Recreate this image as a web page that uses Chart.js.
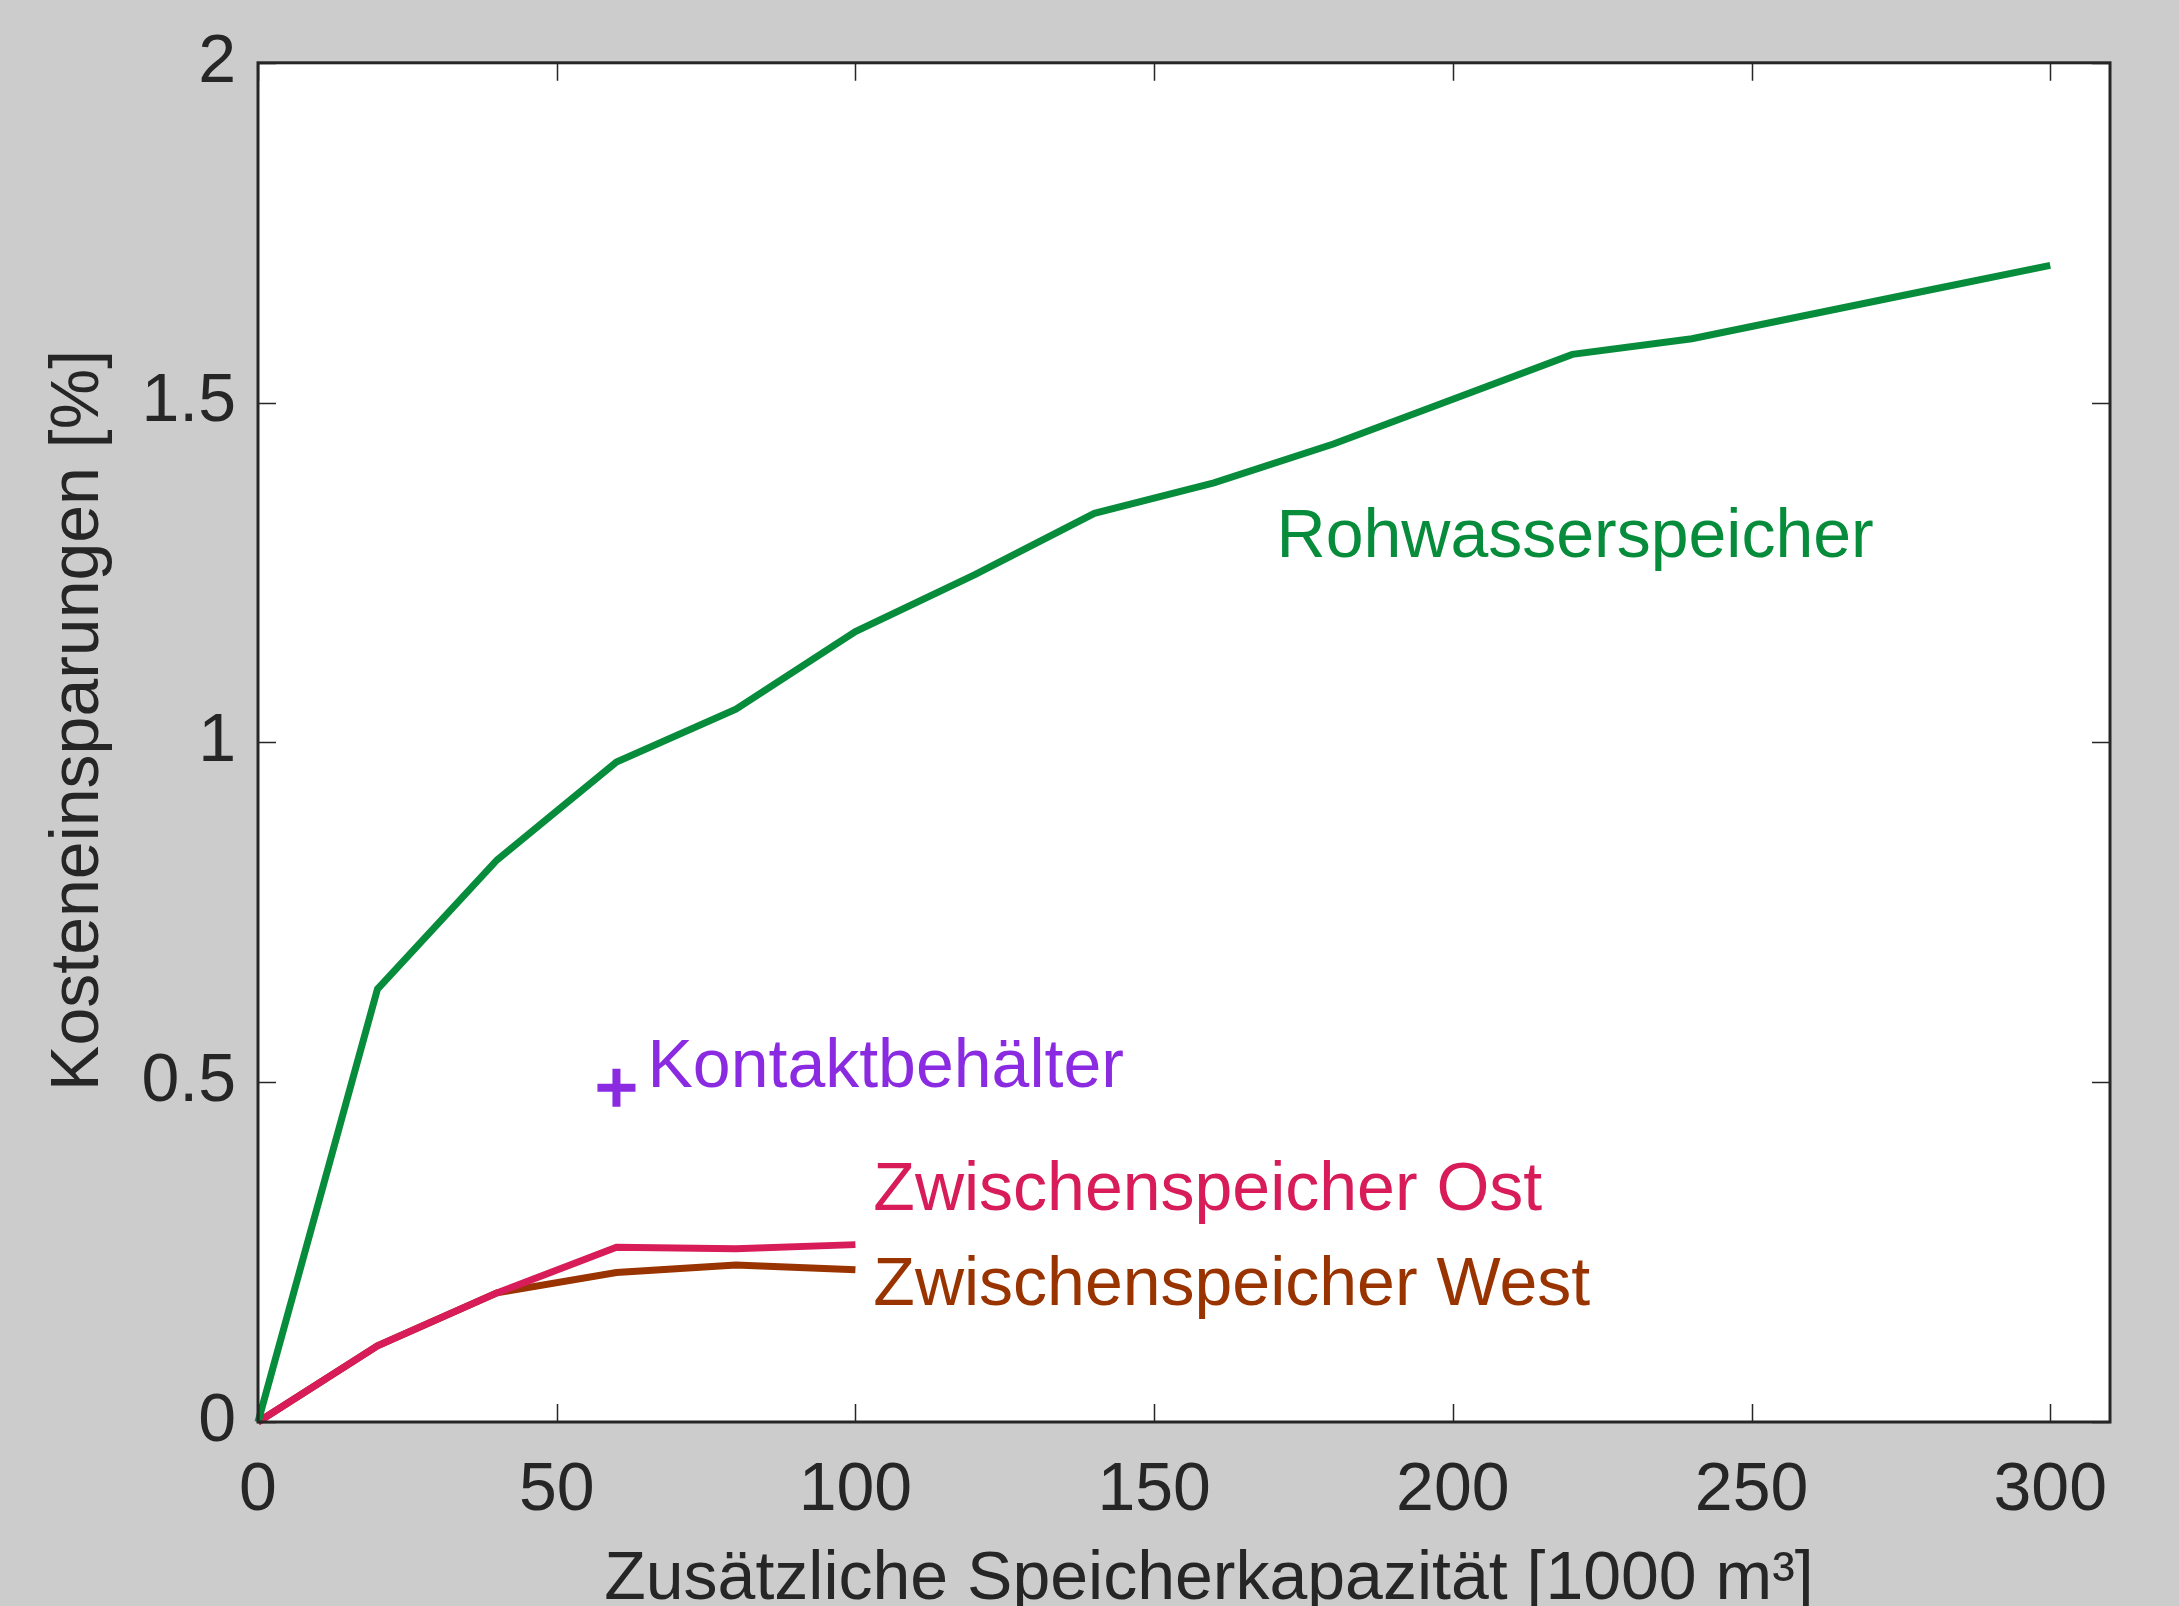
<!DOCTYPE html>
<html>
<head>
<meta charset="utf-8">
<script src="https://cdn.jsdelivr.net/npm/chart.js@4/dist/chart.umd.min.js"></script>
<style>
  html, body { margin: 0; padding: 0; background: #cccccc; }
  canvas { display: block; }
</style>
</head>
<body>
<canvas id="savingsChart" width="2179" height="1606"></canvas>
<script>
// data
const capacity = [0, 20, 40, 60, 80, 100, 120, 140, 160, 180, 200, 220, 240, 260, 280, 300];
const rohwasser = [0, 0.637, 0.827, 0.971, 1.049, 1.163, 1.247, 1.337, 1.382, 1.439, 1.505, 1.571, 1.594, 1.630, 1.666, 1.702];
const capacitySmall = [0, 20, 40, 60, 80, 100];
const zwischenOst = [0, 0.112, 0.19, 0.257, 0.255, 0.261];
const zwischenWest = [0, 0.112, 0.19, 0.22, 0.231, 0.224];
const kontaktX = [60];
const kontaktY = [0.492];
const xTicks = [0, 50, 100, 150, 200, 250, 300];
const yTicks = [0, 0.5, 1, 1.5, 2];

const textColor = "#262626";
const fontFamily = "'Liberation Sans', Arial, Helvetica, sans-serif";
const fontSize = 68;

const toPoints = (xs, ys) => xs.map((x, i) => ({ x: x, y: ys[i] }));

// text labels placed in data coordinates
const seriesLabels = [
  { text: "Rohwasserspeicher", x: 170.5, y: 1.30, color: "#078c3c" },
  { text: "Kontaktbehälter", x: 65.2, y: 0.52, color: "#8a2be2" },
  { text: "Zwischenspeicher Ost", x: 103, y: 0.339, color: "#d81b59" },
  { text: "Zwischenspeicher West", x: 103, y: 0.2, color: "#993300" },
];

const boxPlugin = {
  id: "boxPlugin",
  beforeDraw(chart) {
    const { ctx, chartArea: a } = chart;
    ctx.save();
    ctx.fillStyle = "#ffffff";
    ctx.fillRect(a.left, a.top, a.right - a.left, a.bottom - a.top);
    ctx.font = fontSize + "px " + fontFamily;
    ctx.fillStyle = textColor;
    ctx.textAlign = "center";
    ctx.textBaseline = "middle";
    // x axis title, a little right of centre like the original
    ctx.fillText("Zusätzliche Speicherkapazität [1000 m³]", (a.left + a.right) / 2 + 25, 1580);
    // y axis title, a bit above the axis centre
    ctx.translate(79, (a.top + a.bottom) / 2 - 22);
    ctx.rotate(-Math.PI / 2);
    ctx.fillText("Kosteneinsparungen [%]", 0, 0);
    ctx.restore();
  },
  afterDraw(chart) {
    const { ctx, chartArea: a, scales } = chart;
    const len = 18;
    ctx.save();
    ctx.strokeStyle = textColor;
    ctx.lineWidth = 1.5;
    ctx.beginPath();
    xTicks.forEach((v) => {
      const px = Math.round(scales.x.getPixelForValue(v)) + 0.5;
      ctx.moveTo(px, a.bottom);
      ctx.lineTo(px, a.bottom - len);
      ctx.moveTo(px, a.top);
      ctx.lineTo(px, a.top + len);
    });
    yTicks.forEach((v) => {
      const py = Math.round(scales.y.getPixelForValue(v)) + 0.5;
      ctx.moveTo(a.left, py);
      ctx.lineTo(a.left + len, py);
      ctx.moveTo(a.right, py);
      ctx.lineTo(a.right - len, py);
    });
    ctx.stroke();
    ctx.lineWidth = 3;
    ctx.strokeRect(a.left, a.top, a.right - a.left, a.bottom - a.top);
    ctx.restore();
  },
  afterDatasetsDraw(chart) {
    const { ctx, scales } = chart;
    ctx.save();
    ctx.font = fontSize + "px " + fontFamily;
    ctx.textAlign = "left";
    ctx.textBaseline = "middle";
    seriesLabels.forEach((l) => {
      ctx.fillStyle = l.color;
      ctx.fillText(l.text, scales.x.getPixelForValue(l.x), scales.y.getPixelForValue(l.y));
    });
    ctx.restore();
  },
};

const ctx = document.getElementById("savingsChart").getContext("2d");

const savingsChart = new Chart(ctx, {
  type: "line",
  data: {
    datasets: [
      {
        label: "Rohwasserspeicher",
        data: toPoints(capacity, rohwasser),
        borderColor: "#078c3c",
        borderWidth: 7,
        pointRadius: 0,
        clip: false,
      },
      {
        label: "Kontaktbehälter",
        data: toPoints(kontaktX, kontaktY),
        showLine: false,
        pointStyle: "cross",
        pointRadius: 19,
        pointBorderWidth: 8,
        pointBorderColor: "#8a2be2",
        borderColor: "#8a2be2",
        clip: false,
      },
      {
        label: "Zwischenspeicher Ost",
        data: toPoints(capacitySmall, zwischenOst),
        borderColor: "#d81b59",
        borderWidth: 7,
        pointRadius: 0,
        clip: false,
      },
      {
        label: "Zwischenspeicher West",
        data: toPoints(capacitySmall, zwischenWest),
        borderColor: "#993300",
        borderWidth: 7,
        pointRadius: 0,
        clip: false,
      },
    ],
  },
  options: {
    responsive: false,
    animation: false,
    devicePixelRatio: 1,
    layout: {
      padding: { left: 0, top: 52, right: 69, bottom: 0 },
    },
    plugins: {
      legend: { display: false },
      tooltip: { enabled: false },
    },
    scales: {
      x: {
        type: "linear",
        min: 0,
        max: 310,
        afterFit: (scale) => { scale.height = 184; },
        afterBuildTicks: (scale) => { scale.ticks = xTicks.map((v) => ({ value: v })); },
        grid: { display: false, drawTicks: false },
        border: { display: false },
        ticks: {
          color: textColor,
          font: { family: fontFamily, size: fontSize },
          padding: 28,
          maxRotation: 0,
          callback: (v) => String(v),
        },
        title: { display: false },
      },
      y: {
        type: "linear",
        min: 0,
        max: 2,
        afterFit: (scale) => { scale.width = 258; },
        afterBuildTicks: (scale) => { scale.ticks = yTicks.map((v) => ({ value: v })); },
        grid: { display: false, drawTicks: false },
        border: { display: false },
        ticks: {
          color: textColor,
          font: { family: fontFamily, size: fontSize },
          padding: 22,
          callback: (v) => String(v),
        },
        title: { display: false },
      },
    },
  },
  plugins: [boxPlugin],
});
</script>
</body>
</html>
